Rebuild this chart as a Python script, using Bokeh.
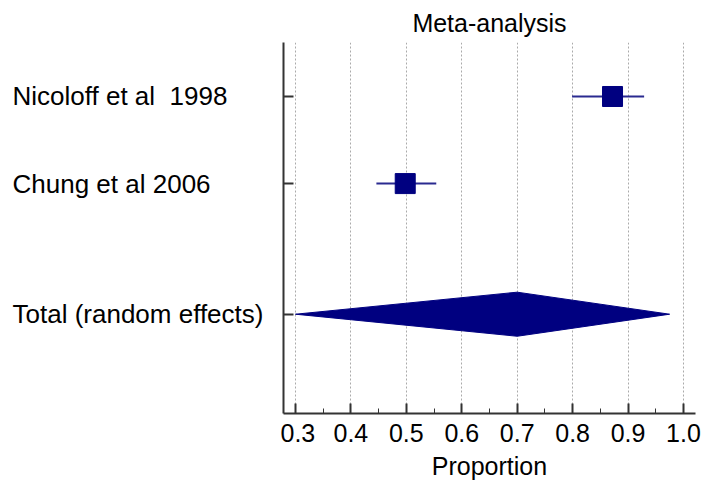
from bokeh.plotting import figure
from bokeh.models import Range1d, FixedTicker
from bokeh.layouts import row
from bokeh.core.properties import value
from bokeh.embed import file_html
from bokeh.resources import INLINE

studies = ["Nicoloff et al\u00a0 1998", "Chung et al 2006"]
est = [0.872, 0.498]
lo = [0.799, 0.446]
hi = [0.929, 0.554]
ypos = [0, 1]

total_label = "Total (random effects)"
total_est = 0.70
total_lo = 0.30
total_hi = 0.975
total_y = 2.5

xticks = [0.3, 0.4, 0.5, 0.6, 0.7, 0.8, 0.9, 1.0]

FONT = "Liberation Sans"
NAVY = "#000080"
AX = "#333333"

yr = Range1d(3.64, -0.62)

# left panel with the row labels
left = figure(width=280, height=484, output_backend="svg", toolbar_location=None,
              x_range=Range1d(0, 280), y_range=yr,
              x_axis_location=None, y_axis_location=None,
              min_border_left=0, min_border_right=0, min_border_top=42, min_border_bottom=71)
left.outline_line_color = None
left.xgrid.visible = False
left.ygrid.visible = False
left.text(x=[12] * 3, y=ypos + [total_y], text=studies + [total_label],
          text_font=value(FONT), text_font_size="26px", text_color="black",
          text_baseline="middle", text_align="left")

p = figure(width=422, height=484, output_backend="svg", toolbar_location=None,
           x_range=Range1d(0.2784, 1.0217), y_range=yr,
           min_border_left=0, min_border_right=7, min_border_top=42, min_border_bottom=71,
           title="Meta-analysis")
p.outline_line_color = None
p.title.align = "center"
p.title.text_font = FONT
p.title.text_font_size = "25px"
p.title.text_font_style = "normal"
p.title.text_color = "black"
p.title.standoff = 12

# x axis
p.xaxis.ticker = FixedTicker(ticks=xticks, minor_ticks=[0.3 + 0.05 * i for i in range(15)])
p.xaxis.major_label_overrides = {t: f"{t:.1f}" for t in xticks}
p.xaxis.axis_label = "Proportion"
p.xaxis.axis_label_text_font = FONT
p.xaxis.axis_label_text_font_size = "25px"
p.xaxis.axis_label_text_font_style = "normal"
p.xaxis.axis_label_text_color = "black"
p.xaxis.axis_label_standoff = 7
p.xaxis.major_label_text_font = FONT
p.xaxis.major_label_text_font_size = "25px"
p.xaxis.major_label_text_color = "black"
p.xaxis.major_label_standoff = 10
p.xaxis.major_tick_in = 10
p.xaxis.major_tick_out = 0
p.xaxis.minor_tick_in = 5
p.xaxis.minor_tick_out = 0
p.xaxis.axis_line_width = 2
p.xaxis.axis_line_color = AX
p.xaxis.major_tick_line_width = 2
p.xaxis.major_tick_line_color = AX
p.xaxis.minor_tick_line_color = AX

# y axis (ticks only)
p.yaxis.ticker = FixedTicker(ticks=ypos + [total_y], minor_ticks=[])
p.yaxis.major_label_overrides = {0: " ", 1: " ", 2.5: " "}
p.yaxis.major_label_text_font_size = "1px"
p.yaxis.major_label_standoff = 0
p.yaxis.major_tick_in = 10
p.yaxis.major_tick_out = 0
p.yaxis.axis_line_width = 2
p.yaxis.axis_line_color = AX
p.yaxis.major_tick_line_width = 2
p.yaxis.major_tick_line_color = AX

p.ygrid.grid_line_color = None
p.xgrid.grid_line_color = "#aaaaaa"
p.xgrid.grid_line_dash = "2 2"
p.xgrid.grid_line_width = 1

# CI lines and squares
p.segment(x0=lo, y0=ypos, x1=hi, y1=ypos, line_color="#2a2a90", line_width=2)
p.scatter(x=est, y=ypos, marker="square", size=20, fill_color=NAVY, line_color=NAVY)

# diamond
h = 0.253
p.patch(x=[total_lo, total_est, total_hi, total_est],
        y=[total_y, total_y - h, total_y, total_y + h],
        fill_color=NAVY, line_color=NAVY)

layout = row(left, p, spacing=0)
open("out.html", "w").write(file_html(layout, INLINE))
